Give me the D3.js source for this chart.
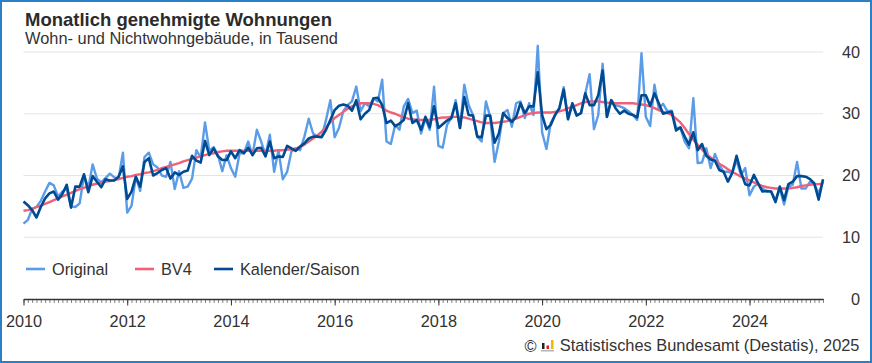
<!DOCTYPE html>
<html lang="de">
<head>
<meta charset="utf-8">
<title>Monatlich genehmigte Wohnungen</title>
<script src="https://cdn.jsdelivr.net/npm/d3@7"></script>
<style>
html, body { margin: 0; padding: 0; background: #fff; }
svg { display: block; font-family: "Liberation Sans", Arial, sans-serif; }
.axis path, .axis line { stroke: #333; }
.axis text { fill: #333; font-size: 16.3px; font-family: "Liberation Sans", Arial, sans-serif; }
</style>
</head>
<body>
<svg id="drawing_region"></svg>
<script>
const start_year = 2010;
const year_labels = [ 2010, 2012, 2014, 2016, 2018, 2020, 2022, 2024 ];
const y_ticks = [ 0, 10, 20, 30, 40 ];
const series_names = [ "Original", "BV4", "Kalender/Saison" ];
const series_colors = [ "#5a9ce8", "#ef6179", "#004a92" ];

// monthly values from Jan 2010, in thousand
const original = [
    12.2, 12.8, 14.6, 14.9, 15.9, 17.4, 18.8, 18.4, 16.6, 17.4, 17.9, 15.0,
    14.9, 15.5, 20.0, 18.0, 21.8, 19.5, 18.9, 19.6, 20.3, 19.7, 19.5, 23.7,
    14.0, 15.1, 19.8, 17.5, 23.0, 23.7, 21.8, 21.3, 20.0, 19.8, 22.2, 17.8,
    20.7, 18.0, 18.2, 19.5, 24.1, 22.9, 28.6, 24.0, 24.6, 23.3, 20.7, 23.3,
    21.2, 19.8, 23.6, 23.6, 25.5, 23.3, 27.4, 25.5, 23.3, 26.6, 20.6, 24.1,
    19.4, 20.6, 23.9, 24.4, 24.1, 26.3, 29.2, 26.8, 26.3, 26.3, 29.0, 32.2,
    26.2, 27.7, 30.4, 31.4, 32.0, 34.4, 30.4, 31.7, 31.2, 32.5, 32.0, 35.5,
    25.5, 25.1, 28.2, 27.4, 31.2, 32.4, 30.1, 30.5, 26.8, 29.3, 27.4, 34.4,
    24.8, 24.5, 28.2, 29.3, 32.2, 27.7, 34.7, 31.4, 29.8, 26.3, 25.5, 32.0,
    29.5, 22.2, 25.5, 30.1, 30.6, 27.9, 31.7, 32.0, 29.3, 31.7, 29.8, 41.0,
    27.0, 24.3, 28.5, 29.8, 30.9, 34.3, 29.3, 31.4, 29.8, 30.1, 33.3, 36.4,
    27.5, 29.8, 38.1, 29.5, 32.2, 31.4, 31.2, 30.9, 30.4, 29.8, 29.0, 39.8,
    29.5, 28.0, 34.7, 30.9, 31.6, 30.4, 30.5, 27.7, 27.7, 25.5, 24.4, 32.5,
    22.0, 22.1, 24.4, 21.2, 23.5, 21.7, 20.6, 20.6, 20.4, 22.5, 20.1, 21.2,
    16.8, 18.2, 18.7, 17.9, 17.4, 17.4, 16.0, 17.9, 15.3, 18.2, 18.5, 22.2,
    17.9, 17.9, 19.0, 18.5, 17.1, 19.0
];
const trend = [
    14.3, 14.4, 14.6, 14.9, 15.1, 15.4, 15.7, 16.0, 16.3, 16.6, 16.9, 17.2,
    17.5, 17.8, 18.0, 18.3, 18.5, 18.7, 18.8, 19.0, 19.1, 19.3, 19.4, 19.6,
    19.8, 19.9, 20.1, 20.2, 20.4, 20.5, 20.7, 20.9, 21.2, 21.4, 21.6, 21.8,
    22.0, 22.3, 22.5, 22.7, 22.9, 23.1, 23.3, 23.5, 23.6, 23.8, 23.9, 24.0,
    24.0, 24.0, 24.0, 24.0, 24.0, 24.0, 24.0, 24.0, 24.0, 24.0, 24.0, 24.1,
    24.1, 24.2, 24.2, 24.4, 24.6, 25.0, 25.5, 26.0, 26.5, 27.1, 27.8, 28.6,
    29.3, 29.8, 30.3, 30.8, 31.2, 31.5, 31.7, 31.7, 31.7, 31.6, 31.4, 31.0,
    30.5, 30.2, 30.0, 29.7, 29.4, 29.2, 29.1, 29.0, 29.0, 29.0, 29.0, 29.1,
    29.3, 29.4, 29.4, 29.5, 29.5, 29.5, 29.4, 29.2, 29.0, 28.8, 28.6, 28.5,
    28.5, 28.5, 28.6, 28.7, 28.8, 29.0, 29.2, 29.5, 29.8, 30.0, 30.1, 30.2,
    30.2, 30.2, 30.2, 30.3, 30.4, 30.6, 30.9, 31.1, 31.4, 31.7, 31.9, 32.0,
    32.0, 32.0, 31.9, 31.8, 31.7, 31.7, 31.7, 31.7, 31.7, 31.7, 31.6, 31.5,
    31.4, 31.2, 30.9, 30.6, 30.3, 30.1, 29.8, 29.2, 28.6, 27.7, 26.7, 25.8,
    25.0, 24.2, 23.5, 22.9, 22.4, 21.9, 21.5, 21.0, 20.6, 20.2, 19.8, 19.5,
    19.2, 18.9, 18.6, 18.3, 18.1, 18.0, 17.9, 17.9, 17.9, 17.9, 18.0, 18.1,
    18.3, 18.4, 18.5, 18.6, 18.6, 18.7
];
const adjusted = [
    15.8, 15.2, 14.4, 13.2, 14.9, 16.3, 17.1, 17.4, 16.1, 17.0, 18.5, 14.8,
    18.2, 18.2, 20.2, 17.3, 19.9, 19.0, 18.1, 19.4, 19.2, 19.2, 19.8, 21.5,
    16.2, 17.4, 19.8, 18.2, 22.2, 22.8, 20.0, 20.4, 20.9, 21.2, 19.5, 20.5,
    20.1, 20.6, 20.8, 23.2, 22.4, 22.1, 25.6, 23.3, 24.4, 23.1, 22.5, 22.5,
    23.9, 22.8, 24.1, 23.6, 24.5, 23.3, 24.4, 24.5, 23.1, 25.5, 22.8, 23.1,
    23.0, 24.8, 24.4, 24.0, 24.7, 25.2, 26.0, 26.3, 26.3, 26.2, 27.4, 29.0,
    30.6, 31.3, 31.5, 31.3, 30.5, 32.2, 29.1, 30.0, 30.6, 32.5, 32.6, 31.4,
    28.5, 28.9, 28.0, 28.4, 29.0, 31.7, 28.5, 29.0, 27.4, 29.5, 27.8, 31.2,
    27.7, 28.3, 28.9, 29.3, 31.7, 27.7, 32.7, 29.8, 29.7, 26.3, 26.2, 29.7,
    29.7, 25.3, 26.8, 30.1, 29.3, 28.7, 29.5, 31.7, 30.1, 31.2, 31.2, 36.7,
    29.8, 27.5, 28.2, 29.8, 30.9, 33.9, 29.1, 31.7, 29.7, 30.1, 33.3, 31.4,
    31.4, 33.0, 37.0, 29.5, 32.2, 30.9, 30.0, 30.5, 30.0, 29.8, 29.4, 33.0,
    33.0, 31.3, 33.3, 31.7, 30.0, 30.2, 30.3, 27.3, 27.8, 26.3, 25.0, 27.0,
    24.1, 25.1, 23.2, 22.6, 22.4, 20.9, 20.6, 19.0, 20.4, 23.2, 20.6, 18.6,
    18.4, 20.1, 18.7, 17.4, 17.5, 17.4, 15.7, 18.2, 16.0, 18.6, 19.0, 19.9,
    19.9, 19.8, 19.4, 18.7, 16.1, 19.4
];
const series = [ original, trend, adjusted ];

const width = 872, height = 363;
const margin = { top: 52, right: 49, bottom: 64, left: 23.5 };
const inner_width = width - margin.left - margin.right;
const inner_height = height - margin.top - margin.bottom;

const svg = d3.select( "#drawing_region" )
    .attr( "width", width )
    .attr( "height", height );

svg.append( "rect" )
    .attr( "x", 1 ).attr( "y", 1 )
    .attr( "width", width - 2 ).attr( "height", height - 2 )
    .attr( "fill", "#fff" )
    .attr( "stroke", "#2a7fc6" )
    .attr( "stroke-width", 2 );

const chart = svg.append( "g" )
    .attr( "transform", `translate(${margin.left}, ${margin.top})` );

const xscale = d3.scaleLinear()
    .domain( [ 0, original.length - 1 ] )
    .range( [ 0, inner_width ] );

const yscale = d3.scaleLinear()
    .domain( [ 0, 40 ] )
    .range( [ inner_height, 0 ] );

// grid
chart.selectAll( ".grid" )
    .data( y_ticks.filter( d => d > 0 ) )
    .join( "line" )
    .attr( "class", "grid" )
    .attr( "x1", 0 )
    .attr( "x2", inner_width )
    .attr( "y1", d => yscale( d ) )
    .attr( "y2", d => yscale( d ) )
    .attr( "stroke", "#e4e4e4" )
    .attr( "stroke-width", 1.2 );

// month ticks, then the longer year ticks with labels
const month_axis = d3.axisBottom( xscale )
    .tickValues( d3.range( 0, original.length ) )
    .tickSize( 4 )
    .tickSizeOuter( 0 )
    .tickFormat( "" );

const year_axis = d3.axisBottom( xscale )
    .tickValues( d3.range( 0, original.length, 12 ).filter( d => d % 24 == 0 ) )
    .tickSize( 6.5 )
    .tickPadding( 4 )
    .tickSizeOuter( 0 )
    .tickFormat( d => year_labels[ d / 24 ] );

const month_group = chart.append( "g" )
    .attr( "class", "axis" )
    .attr( "transform", `translate(0, ${inner_height})` )
    .call( month_axis );
month_group.selectAll( ".tick line" ).attr( "stroke-width", 0.6 ).attr( "stroke", "#666" );

const year_group = chart.append( "g" )
    .attr( "class", "axis" )
    .attr( "transform", `translate(0, ${inner_height})` )
    .call( year_axis );
year_group.select( ".domain" ).attr( "stroke-width", 1.3 );
year_group.selectAll( "text" ).attr( "dy", "1.05em" );

// y labels sit to the right, no axis line
const yaxis = d3.axisRight( yscale )
    .tickValues( y_ticks )
    .tickSize( 0 )
    .tickPadding( 0 );

const yaxis_group = chart.append( "g" )
    .attr( "class", "axis" )
    .attr( "transform", `translate(${860 - margin.left}, 0)` )
    .call( yaxis );
yaxis_group.select( ".domain" ).remove();
yaxis_group.selectAll( "text" ).attr( "text-anchor", "end" );

// lines
const line = d3.line()
    .x( ( d, i ) => xscale( i ) )
    .y( d => yscale( d ) );

chart.selectAll( ".series" )
    .data( series )
    .join( "path" )
    .attr( "class", "series" )
    .attr( "d", line )
    .attr( "fill", "none" )
    .attr( "stroke", ( d, i ) => series_colors[ i ] )
    .attr( "stroke-width", ( d, i ) => i == 2 ? 2.6 : 2.4 )
    .attr( "stroke-linejoin", "round" );

// legend
const legend_x = [ 26, 135, 214 ];
const legend = svg.selectAll( ".legend" )
    .data( series_names )
    .join( "g" )
    .attr( "class", "legend" )
    .attr( "transform", ( d, i ) => `translate(${legend_x[ i ]}, 269)` );

legend.append( "line" )
    .attr( "x2", 19 )
    .attr( "stroke", ( d, i ) => series_colors[ i ] )
    .attr( "stroke-width", 2.6 );

legend.append( "text" )
    .attr( "x", 26 )
    .attr( "y", 5.5 )
    .attr( "font-size", 16.3 )
    .attr( "fill", "#333" )
    .text( d => d );

// title
svg.append( "text" )
    .attr( "x", 25 ).attr( "y", 26 )
    .attr( "font-size", 18.5 )
    .attr( "font-weight", "bold" )
    .attr( "fill", "#2b2b2b" )
    .text( "Monatlich genehmigte Wohnungen" );

svg.append( "text" )
    .attr( "x", 25 ).attr( "y", 44 )
    .attr( "font-size", 16.4 )
    .attr( "fill", "#333" )
    .text( "Wohn- und Nichtwohngebäude, in Tausend" );

// source line with little logo
svg.append( "text" )
    .attr( "x", 859.5 ).attr( "y", 351 )
    .attr( "text-anchor", "end" )
    .attr( "font-size", 16.4 )
    .attr( "fill", "#333" )
    .text( "Statistisches Bundesamt (Destatis), 2025" );

svg.append( "text" )
    .attr( "x", 524.5 ).attr( "y", 352 )
    .attr( "font-size", 16.4 )
    .attr( "fill", "#333" )
    .text( "©" );

const logo = svg.append( "g" ).attr( "transform", "translate(541, 340)" );
logo.append( "rect" ).attr( "x", 0 ).attr( "y", 10 ).attr( "width", 13 ).attr( "height", 1.5 ).attr( "fill", "#b5b5b5" );
logo.append( "rect" ).attr( "x", 1 ).attr( "y", 3 ).attr( "width", 2.5 ).attr( "height", 6 ).attr( "fill", "#222" );
logo.append( "rect" ).attr( "x", 5.5 ).attr( "y", 5.5 ).attr( "width", 2.5 ).attr( "height", 3.5 ).attr( "fill", "#d8232a" );
logo.append( "rect" ).attr( "x", 10 ).attr( "y", 0 ).attr( "width", 2.5 ).attr( "height", 9 ).attr( "fill", "#f2b705" );
</script>
</body>
</html>
